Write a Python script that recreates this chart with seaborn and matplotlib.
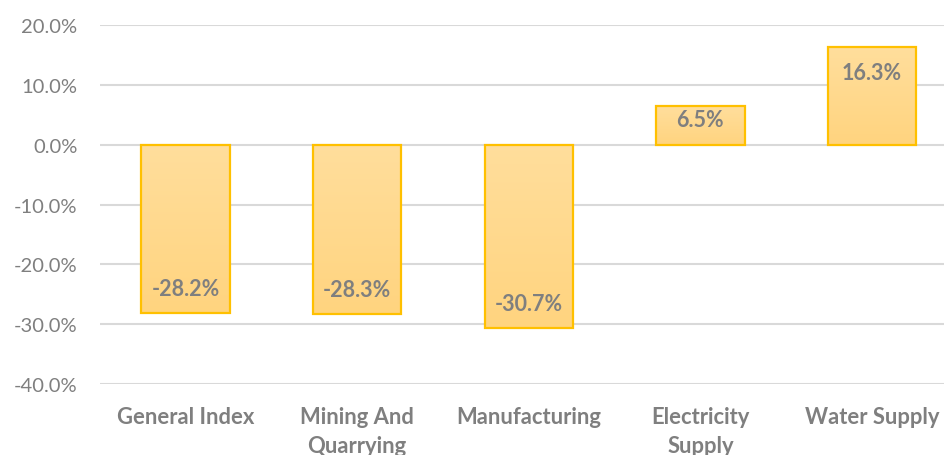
import numpy as np
import pandas as pd
import matplotlib
matplotlib.use("Agg")
import matplotlib.pyplot as plt
import seaborn as sns
from matplotlib.colors import LinearSegmentedColormap

# Year-on-year change by sector (%)
categories = ["General Index", "Mining And\nQuarrying", "Manufacturing",
              "Electricity\nSupply", "Water Supply"]
changes = [-28.2, -28.3, -30.7, 6.5, 16.3]
yticks = [-40, -30, -20, -10, 0, 10, 20]

df = pd.DataFrame({"sector": categories, "change": changes})

sns.set_style("white")
plt.rcParams["font.family"] = ["Lato", "DejaVu Sans"]

gray = "#7F7F7F"
fig = plt.figure(figsize=(9.44, 4.56), dpi=100)
ax = fig.add_axes([0.1056, 0.1557, 0.909, 0.787])

sns.barplot(data=df, x="sector", y="change", color="#FFD98E", saturation=1,
            width=0.515, edgecolor="#FFC000", linewidth=1.6, ax=ax, zorder=3)

# soft vertical gradient inside the bars, like the Excel fill
grad = LinearSegmentedColormap.from_list("g", ["#FFD47F", "#FFDE9C"])
for p in ax.patches:
    x0, w = p.get_x(), p.get_width()
    y0, h = p.get_y(), p.get_height()
    lo, hi = min(y0, y0 + h), max(y0, y0 + h)
    im = ax.imshow(np.linspace(0, 1, 100).reshape(-1, 1), extent=[x0, x0 + w, lo, hi],
                   origin="lower", cmap=grad, aspect="auto", zorder=2.5)
    im.set_clip_path(p)
    p.set_facecolor("none")

ax.set_xlim(-0.5, len(categories) - 0.5)
ax.set_ylim(-40, 20)
ax.set_yticks(yticks)
ax.set_yticklabels([f"{v:.1f}%" for v in yticks])
ax.yaxis.grid(True, color="#D9D9D9", linewidth=1.5, zorder=0)
ax.set_axisbelow(True)
for s in ax.spines.values():
    s.set_visible(False)
ax.tick_params(axis="y", length=0, pad=16, labelsize=14.5, labelcolor=gray)
ax.tick_params(axis="x", length=0, pad=16, labelsize=15.8, labelcolor=gray)
for t in ax.get_xticklabels():
    t.set_fontweight("bold")
    t.set_linespacing(1.45)
ax.set_xlabel("")
ax.set_ylabel("")

# data labels inside the bar ends
px_per_unit = ax.bbox.height / 60
for i, v in enumerate(changes):
    h_px = abs(v) * px_per_unit
    off = min(25, 0.35 * h_px) * 72 / fig.dpi
    sign = 1 if v > 0 else -1
    ax.annotate(f"{v:.1f}%", (i, v), xytext=(0, -sign * off), textcoords="offset points",
                ha="center", va="center", fontsize=15.5, fontweight="bold", color=gray, zorder=5)

fig.savefig("out.png", dpi=100)
